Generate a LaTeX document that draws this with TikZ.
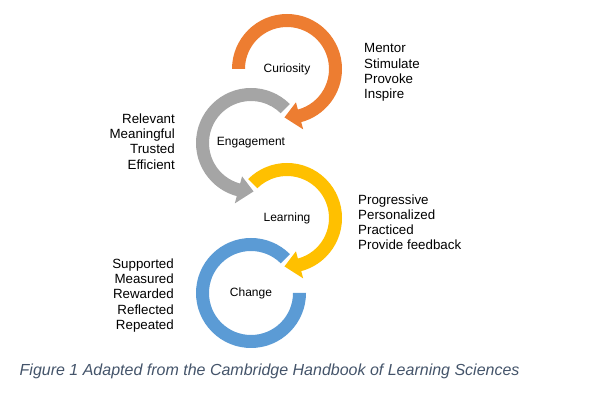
\documentclass[tikz,border=0pt]{standalone}
\usepackage{fontspec}
\setmainfont{Liberation Sans}
\usetikzlibrary{positioning}
\definecolor{ringorange}{HTML}{ED7D31}
\definecolor{ringgray}{HTML}{A5A5A5}
\definecolor{ringyellow}{HTML}{FFC000}
\definecolor{ringblue}{HTML}{5B9BD5}
\definecolor{captionblue}{HTML}{44546A}

\begin{document}
\begin{tikzpicture}[x=1pt,y=1pt,
  ringlabel/.style={inner sep=0pt,font=\fontsize{12}{14}\selectfont},
  sidetext/.style={inner sep=0pt,font=\fontsize{13.33}{15.3}\selectfont},
  figcaption/.style={inner sep=0pt,text=captionblue,font=\fontsize{16}{18}\selectfont\itshape}]
\useasboundingbox (0,0) rectangle (593,403);
% labels in the middle of each ring
\node[ringlabel] (curiosity) at (287,334) {Curiosity};
\node[ringlabel] (engagement) at (251,260) {Engagement};
\node[ringlabel] (learning) at (287,185) {Learning};
\node[ringlabel] (change) at (251,110) {Change};
% rings: band 42..55, head 34.5..62.5
\fill[ringorange,shift={(curiosity)}] (180:55) arc[start angle=180,end angle=-75,radius=55] -- (-75:62.5) -- (-93:48.5) -- (-75:34.5) -- (-75:42) arc[start angle=-75,end angle=180,radius=42] -- cycle;
\fill[ringgray,shift={(engagement)}] (45:55) arc[start angle=45,end angle=255,radius=55] -- (255:62.5) -- (273:48.5) -- (255:34.5) -- (255:42) arc[start angle=255,end angle=45,radius=42] -- cycle;
\fill[ringyellow,shift={(learning)}] (135:55) arc[start angle=135,end angle=-75,radius=55] -- (-75:62.5) -- (-93:48.5) -- (-75:34.5) -- (-75:42) arc[start angle=-75,end angle=135,radius=42] -- cycle;
\fill[ringblue,shift={(change)}] (45:55) arc[start angle=45,end angle=360,radius=55] -- (0:42) arc[start angle=360,end angle=45,radius=42] -- cycle;
% word lists (base = last line)
\node[sidetext,anchor=base west,align=left] (mentor) at (364,304.3) {Mentor\\Stimulate\\Provoke\\Inspire};
\node[sidetext,anchor=base east,align=right] (relevant) at (175,233.8) {Relevant\\Meaningful\\Trusted\\Efficient};
\node[sidetext,anchor=base west,align=left] (progressive) at (358,153) {Progressive\\Personalized\\Practiced\\Provide feedback};
\node[sidetext,anchor=base east,align=right] (supported) at (174,73.5) {Supported\\Measured\\Rewarded\\Reflected\\Repeated};
\node[figcaption,anchor=base west] (caption) at (19.5,27) {Figure 1 Adapted from the Cambridge Handbook of Learning Sciences};
\end{tikzpicture}
\end{document}
